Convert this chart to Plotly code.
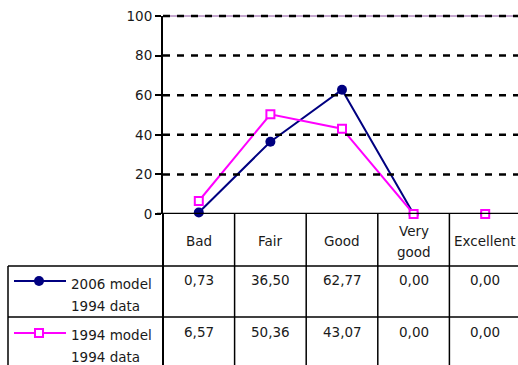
import plotly.graph_objects as go

# ---- data -------------------------------------------------------------
categories = ["Bad", "Fair", "Good", "Very good", "Excellent"]
header_lines = [["Bad"], ["Fair"], ["Good"], ["Very", "good"], ["Excellent"]]
series_labels = [["2006 model", "1994 data"], ["1994 model", "1994 data"]]
model_2006 = [0.73, 36.50, 62.77, 0.00, 0.00]
model_1994 = [6.57, 50.36, 43.07, 0.00, 0.00]
y_ticks = [0, 20, 40, 60, 80, 100]

# ---- styling / geometry (pixels) --------------------------------------
W, H = 518, 365
NAVY = "#000080"
MAGENTA = "#FF00FF"
FONT = "DejaVu Sans"
FSIZE = 13.5
TXT = "#1a1a1a"

plot_left, plot_top, plot_bottom = 163, 16, 214
cat_width = 71.6
header_bottom, row1_bottom = 266, 317
table_left = 8
row_value_y = [280, 332]
row_label_y = [(284, 306), (335, 357)]
key_x0, key_x1, key_mx = 14, 66, 39

y_dom = [(H - plot_bottom) / H, (H - plot_top) / H]

fig = go.Figure()

series = [
    (model_2006, NAVY, dict(symbol="circle", size=10, color=NAVY)),
    (model_1994, MAGENTA, dict(symbol="square", size=8, color="white",
                                line=dict(color=MAGENTA, width=2))),
]

for vals, col, mk in series:
    fig.add_trace(go.Scatter(
        x=categories, y=vals, mode="lines+markers",
        line=dict(color=col, width=2), marker=mk,
        cliponaxis=False, showlegend=False, hoverinfo="skip",
        xaxis="x", yaxis="y",
    ))

# legend keys inside the data table (pixel-space overlay axes)
for (vals, col, mk), ry in zip(series, row_value_y):
    fig.add_trace(go.Scatter(
        x=[key_x0, key_mx, key_x1], y=[ry + 1, ry + 1, ry + 1],
        mode="lines", line=dict(color=col, width=2),
        showlegend=False, hoverinfo="skip", xaxis="x2", yaxis="y2",
    ))
    fig.add_trace(go.Scatter(
        x=[key_mx], y=[ry + 1], mode="markers", marker=mk,
        showlegend=False, hoverinfo="skip", xaxis="x2", yaxis="y2",
    ))

shapes = []
line_k = dict(color="black", width=1.5)
grid_style = dict(color="black", width=2.5, dash="7px,7px")

# thin top border of the plot area, under the top gridline
shapes.append(dict(type="line", xref="paper", yref="paper", x0=plot_left / W, x1=1,
                   y0=y_dom[1], y1=y_dom[1], line=dict(color="#8a4f9e", width=1)))
# dashed value gridlines (20 .. 80 inside the plot, 100 on its top edge)
for t in y_ticks[1:-1]:
    shapes.append(dict(type="line", xref="paper", yref="y", x0=plot_left / W, x1=1,
                       y0=t, y1=t, line=grid_style, layer="above"))
shapes.append(dict(type="line", xref="paper", yref="paper", x0=plot_left / W, x1=1,
                   y0=y_dom[1], y1=y_dom[1], line=grid_style, layer="above"))

# table: vertical separators follow the category axis
for i in range(1, len(categories)):
    shapes.append(dict(type="line", xref="x", yref="y2", x0=i - 0.5, x1=i - 0.5,
                       y0=plot_bottom, y1=H, line=line_k))
shapes.append(dict(type="line", xref="x2", yref="y2", x0=plot_left, x1=plot_left,
                   y0=plot_bottom, y1=H, line=dict(color="black", width=2)))
# table: horizontal separators and left border
for yy in (header_bottom, row1_bottom):
    shapes.append(dict(type="line", xref="x2", yref="y2", x0=table_left, x1=W,
                       y0=yy, y1=yy, line=line_k))
shapes.append(dict(type="line", xref="x2", yref="y2", x0=table_left, x1=table_left,
                   y0=header_bottom, y1=H, line=line_k))
# category axis line
shapes.append(dict(type="line", xref="x2", yref="y", x0=plot_left - 6, x1=W,
                   y0=0, y1=0, line=dict(color="black", width=2.5)))

annotations = []
fnt = dict(family=FONT, size=FSIZE, color=TXT)

# header row (category names)
for cat, lines in zip(categories, header_lines):
    if len(lines) == 1:
        annotations.append(dict(x=cat, y=241, xref="x", yref="y2", text=lines[0],
                                showarrow=False, font=fnt, yanchor="middle"))
    else:
        for ln, yy in zip(lines, (231, 252)):
            annotations.append(dict(x=cat, y=yy, xref="x", yref="y2", text=ln,
                                    showarrow=False, font=fnt, yanchor="middle"))

# value rows
for vals, ry in zip((model_2006, model_1994), row_value_y):
    for cat, v in zip(categories, vals):
        annotations.append(dict(x=cat, y=ry, xref="x", yref="y2",
                                text=f"{v:.2f}".replace(".", ","),
                                showarrow=False, font=fnt, yanchor="middle"))

# series labels
for lines, ys in zip(series_labels, row_label_y):
    for ln, yy in zip(lines, ys):
        annotations.append(dict(x=69, y=yy, xref="x2", yref="y2", text=ln,
                                showarrow=False, font=fnt, xanchor="left",
                                yanchor="middle"))

fig.update_layout(
    width=W, height=H, autosize=False,
    margin=dict(l=0, r=0, t=0, b=0, pad=0, autoexpand=False),
    paper_bgcolor="white",
    plot_bgcolor="rgba(0,0,0,0)",
    shapes=shapes,
    annotations=annotations,
    xaxis=dict(
        type="category", categoryarray=categories, categoryorder="array",
        domain=[plot_left / W, 1],
        range=[-0.5, -0.5 + (W - plot_left) / cat_width],
        showticklabels=False, showgrid=False, zeroline=False, showline=False,
        ticks="", anchor="y", automargin=False,
    ),
    yaxis=dict(
        domain=y_dom,
        range=[0, 100], tickvals=y_ticks,
        ticks="outside", ticklen=6, tickwidth=2, tickcolor="black",
        showline=True, linewidth=2, linecolor="black",
        showgrid=False, zeroline=False, automargin=False,
        tickfont=dict(family=FONT, size=FSIZE, color=TXT),
        anchor="x",
    ),
    xaxis2=dict(domain=[0, 1], range=[0, W], visible=False, anchor="y2",
                fixedrange=True, automargin=False),
    yaxis2=dict(domain=[0, 1], range=[H, 0], visible=False, anchor="x2",
                fixedrange=True, automargin=False),
)

fig.write_html("out.html")
